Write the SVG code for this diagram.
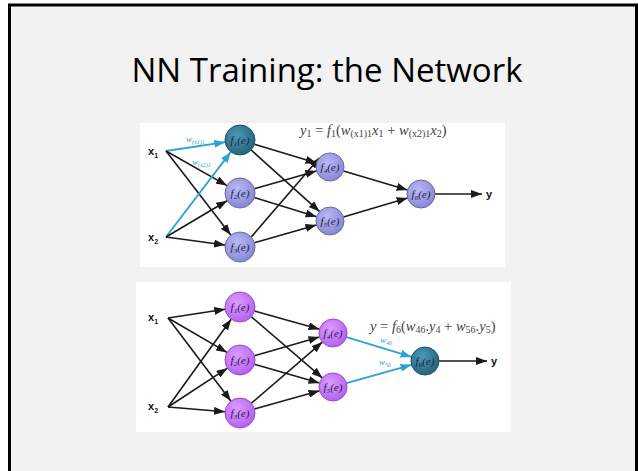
<svg xmlns="http://www.w3.org/2000/svg" width="638" height="471" viewBox="0 0 638 471">
<style>
.title{font-family:"Open Sans","Noto Sans",sans-serif;font-size:33px;fill:#000}
.ln{stroke:#1a1a1a;stroke-width:1.6;fill:none}
.bl{stroke:#2aa3d6;stroke-width:1.8;fill:none}
.nt{font-family:"Liberation Serif",serif;font-style:italic;font-size:11px;fill:#1c1c48}
.xl{font-family:"Liberation Sans",sans-serif;font-weight:bold;font-size:11px;fill:#111}
.fm{font-family:"Liberation Serif",serif;font-size:14.5px;fill:#444}
.wl{font-family:"Liberation Serif",serif;font-style:italic;font-size:9px;fill:#2aa3d6}
.lav{fill:url(#gLav);stroke:#6a6aa8;stroke-width:1}
.tea{fill:url(#gTea);stroke:#1d5366;stroke-width:1}
.pur{fill:url(#gPur);stroke:#9a48cc;stroke-width:1}
</style>
<defs>
<radialGradient id="gLav" cx="0.4" cy="0.35" r="0.7"><stop offset="0" stop-color="#b9b9f5"/><stop offset="1" stop-color="#8585d0"/></radialGradient>
<radialGradient id="gTea" cx="0.4" cy="0.35" r="0.7"><stop offset="0" stop-color="#4a9cb8"/><stop offset="1" stop-color="#245f78"/></radialGradient>
<radialGradient id="gPur" cx="0.4" cy="0.35" r="0.7"><stop offset="0" stop-color="#dc9cff"/><stop offset="1" stop-color="#b35ef0"/></radialGradient>
<marker id="ak" markerUnits="userSpaceOnUse" markerWidth="11" markerHeight="8" refX="11" refY="4" orient="auto"><path d="M0,0 L11,4 L0,8 z" fill="#1a1a1a"/></marker>
<marker id="ab" markerUnits="userSpaceOnUse" markerWidth="11" markerHeight="8" refX="11" refY="4" orient="auto"><path d="M0,0 L11,4 L0,8 z" fill="#2aa3d6"/></marker>
</defs>
<rect x="0" y="0" width="638" height="471" fill="#ffffff"/>
<rect x="9.5" y="5" width="627" height="480" fill="#f2f2f2" stroke="#000" stroke-width="3"/>
<text class="title" x="327" y="82" text-anchor="middle">NN Training: the Network</text>
<rect x="140" y="123" width="365" height="144" fill="#fff"/>
<rect x="136" y="282" width="375" height="150" fill="#fff"/>
<g id="connectors">
<line class="bl" x1="166" y1="151" x2="225.2" y2="142.2" marker-end="url(#ab)"/>
<line class="ln" x1="166" y1="151" x2="227" y2="185.6" marker-end="url(#ak)"/>
<line class="ln" x1="166" y1="151" x2="230.8" y2="235.1" marker-end="url(#ak)"/>
<line class="bl" x1="166" y1="237" x2="230.9" y2="151.9" marker-end="url(#ab)"/>
<line class="ln" x1="166" y1="237" x2="227.1" y2="200.7" marker-end="url(#ak)"/>
<line class="ln" x1="166" y1="237" x2="225.1" y2="245" marker-end="url(#ak)"/>
<line class="ln" x1="254.4" y1="144.3" x2="316.6" y2="163" marker-end="url(#ak)"/>
<line class="ln" x1="251.1" y1="150" x2="319.6" y2="211.6" marker-end="url(#ak)"/>
<line class="ln" x1="254.4" y1="188.8" x2="316.5" y2="170.9" marker-end="url(#ak)"/>
<line class="ln" x1="254.3" y1="197.5" x2="316.6" y2="216.8" marker-end="url(#ak)"/>
<line class="ln" x1="251.2" y1="237" x2="319.5" y2="157.7" marker-end="url(#ak)"/>
<line class="ln" x1="254.4" y1="242.8" x2="316.5" y2="224.9" marker-end="url(#ak)"/>
<line class="ln" x1="343.4" y1="171" x2="407.6" y2="190" marker-end="url(#ak)"/>
<line class="ln" x1="343.4" y1="217" x2="407.6" y2="198" marker-end="url(#ak)"/>
<line class="ln" x1="435" y1="194" x2="482" y2="194" marker-end="url(#ak)"/>
<line class="ln" x1="168" y1="318" x2="225.2" y2="309.3" marker-end="url(#ak)"/>
<line class="ln" x1="168" y1="318" x2="227" y2="352.4" marker-end="url(#ak)"/>
<line class="ln" x1="168" y1="318" x2="230.9" y2="401" marker-end="url(#ak)"/>
<line class="ln" x1="168" y1="407" x2="231.2" y2="319.2" marker-end="url(#ak)"/>
<line class="ln" x1="168" y1="407" x2="227.4" y2="368.2" marker-end="url(#ak)"/>
<line class="ln" x1="168" y1="407" x2="225" y2="411.8" marker-end="url(#ak)"/>
<line class="ln" x1="254.4" y1="311" x2="319.5" y2="329.2" marker-end="url(#ak)"/>
<line class="ln" x1="251.4" y1="316.8" x2="322.4" y2="377.9" marker-end="url(#ak)"/>
<line class="ln" x1="254.4" y1="355.8" x2="319.5" y2="336.9" marker-end="url(#ak)"/>
<line class="ln" x1="254.4" y1="364.2" x2="319.5" y2="383.1" marker-end="url(#ak)"/>
<line class="ln" x1="251.4" y1="403.2" x2="322.4" y2="342.1" marker-end="url(#ak)"/>
<line class="ln" x1="254.4" y1="409" x2="319.5" y2="390.8" marker-end="url(#ak)"/>
<line class="bl" x1="346.4" y1="337.1" x2="411.6" y2="356.9" marker-end="url(#ab)"/>
<line class="bl" x1="346.5" y1="383.2" x2="411.5" y2="364.8" marker-end="url(#ab)"/>
<line class="ln" x1="439" y1="361" x2="487" y2="361" marker-end="url(#ak)"/>
</g>
<g id="top-x1"><text class="xl" x="148" y="155">x<tspan font-size="7" dy="3">1</tspan></text></g>
<g id="top-x2"><text class="xl" x="148" y="241">x<tspan font-size="7" dy="3">2</tspan></text></g>
<g id="top-f1"><circle class="tea" cx="240" cy="140" r="15"/><text class="nt" x="240" y="144" text-anchor="middle">f<tspan font-size="7" dy="2">1</tspan><tspan dy="-2">(e)</tspan></text></g>
<g id="top-f2"><circle class="lav" cx="240" cy="193" r="15"/><text class="nt" x="240" y="197" text-anchor="middle">f<tspan font-size="7" dy="2">2</tspan><tspan dy="-2">(e)</tspan></text></g>
<g id="top-f3"><circle class="lav" cx="240" cy="247" r="15"/><text class="nt" x="240" y="251" text-anchor="middle">f<tspan font-size="7" dy="2">3</tspan><tspan dy="-2">(e)</tspan></text></g>
<g id="top-f4"><circle class="lav" cx="330" cy="167" r="14"/><text class="nt" x="330" y="171" text-anchor="middle">f<tspan font-size="7" dy="2">4</tspan><tspan dy="-2">(e)</tspan></text></g>
<g id="top-f5"><circle class="lav" cx="330" cy="221" r="14"/><text class="nt" x="330" y="225" text-anchor="middle">f<tspan font-size="7" dy="2">5</tspan><tspan dy="-2">(e)</tspan></text></g>
<g id="top-f6"><circle class="lav" cx="421" cy="194" r="14"/><text class="nt" x="421" y="198" text-anchor="middle">f<tspan font-size="7" dy="2">6</tspan><tspan dy="-2">(e)</tspan></text></g>
<g id="top-y"><text class="xl" x="486" y="198" font-size="12">y</text></g>
<g id="top-labels">
<text class="wl" x="186" y="142">w<tspan font-size="6" dy="2">(x1)1</tspan></text>
<text class="wl" x="192" y="165">w<tspan font-size="6" dy="2">(x2)1</tspan></text>
<text class="fm" x="300" y="135"><tspan font-style="italic">y</tspan><tspan font-size="10" dy="2">1</tspan><tspan dy="-2"> = </tspan><tspan font-style="italic">f</tspan><tspan font-size="10" dy="2">1</tspan><tspan dy="-2">(</tspan><tspan font-style="italic">w</tspan><tspan font-size="10" dy="2">(x1)1</tspan><tspan font-style="italic" dy="-2">x</tspan><tspan font-size="10" dy="2">1</tspan><tspan dy="-2"> + </tspan><tspan font-style="italic">w</tspan><tspan font-size="10" dy="2">(x2)1</tspan><tspan font-style="italic" dy="-2">x</tspan><tspan font-size="10" dy="2">2</tspan><tspan dy="-2">)</tspan></text>
</g>
<g id="bot-x1"><text class="xl" x="148" y="321">x<tspan font-size="7" dy="3">1</tspan></text></g>
<g id="bot-x2"><text class="xl" x="148" y="410">x<tspan font-size="7" dy="3">2</tspan></text></g>
<g id="bot-f1"><circle class="pur" cx="240" cy="307" r="15"/><text class="nt" x="240" y="311" text-anchor="middle">f<tspan font-size="7" dy="2">1</tspan><tspan dy="-2">(e)</tspan></text></g>
<g id="bot-f2"><circle class="pur" cx="240" cy="360" r="15"/><text class="nt" x="240" y="364" text-anchor="middle">f<tspan font-size="7" dy="2">2</tspan><tspan dy="-2">(e)</tspan></text></g>
<g id="bot-f3"><circle class="pur" cx="240" cy="413" r="15"/><text class="nt" x="240" y="417" text-anchor="middle">f<tspan font-size="7" dy="2">3</tspan><tspan dy="-2">(e)</tspan></text></g>
<g id="bot-f4"><circle class="pur" cx="333" cy="333" r="14"/><text class="nt" x="333" y="337" text-anchor="middle">f<tspan font-size="7" dy="2">4</tspan><tspan dy="-2">(e)</tspan></text></g>
<g id="bot-f5"><circle class="pur" cx="333" cy="387" r="14"/><text class="nt" x="333" y="391" text-anchor="middle">f<tspan font-size="7" dy="2">5</tspan><tspan dy="-2">(e)</tspan></text></g>
<g id="bot-f6"><circle class="tea" cx="425" cy="361" r="14"/><text class="nt" x="425" y="365" text-anchor="middle">f<tspan font-size="7" dy="2">6</tspan><tspan dy="-2">(e)</tspan></text></g>
<g id="bot-y"><text class="xl" x="491" y="365" font-size="12">y</text></g>
<g id="bot-labels">
<text class="wl" x="380" y="343">w<tspan font-size="6" dy="2">46</tspan></text>
<text class="wl" x="379" y="365">w<tspan font-size="6" dy="2">56</tspan></text>
<text class="fm" x="370" y="331"><tspan font-style="italic">y</tspan> = <tspan font-style="italic">f</tspan><tspan font-size="10" dy="2">6</tspan><tspan dy="-2">(</tspan><tspan font-style="italic">w</tspan><tspan font-size="10" dy="2">46</tspan><tspan dy="-2">.</tspan><tspan font-style="italic">y</tspan><tspan font-size="10" dy="2">4</tspan><tspan dy="-2"> + </tspan><tspan font-style="italic">w</tspan><tspan font-size="10" dy="2">56</tspan><tspan dy="-2">.</tspan><tspan font-style="italic">y</tspan><tspan font-size="10" dy="2">5</tspan><tspan dy="-2">)</tspan></text>
</g>
</svg>
